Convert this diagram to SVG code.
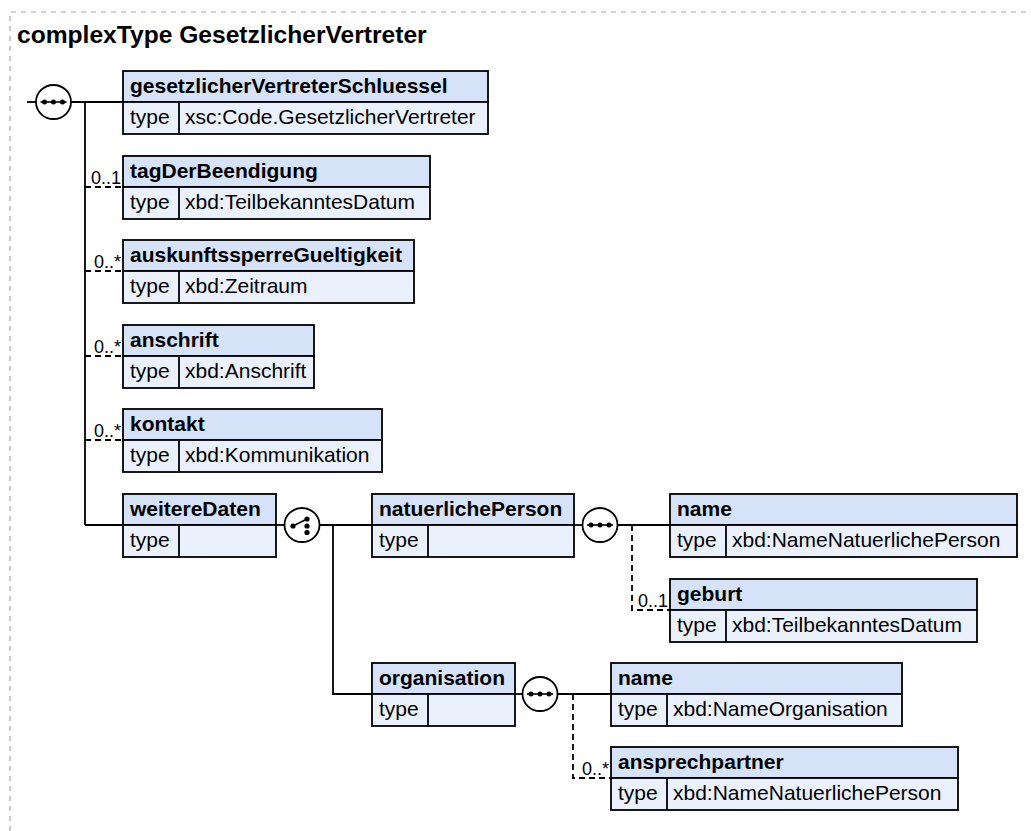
<svg xmlns="http://www.w3.org/2000/svg" width="1031" height="831" viewBox="0 0 1031 831">
<style>
  .frame{fill:none;stroke:#a6a6a6;stroke-width:1.2;stroke-dasharray:5,5}
  .title{font-family:"Liberation Sans",Arial,sans-serif;font-weight:bold;font-size:24.6px;fill:#000}
  .hd{fill:#d5e2f7;stroke:#000;stroke-width:1.8}
  .bd{fill:#eaf1fc;stroke:#000;stroke-width:1.8}
  .dv{stroke:#000;stroke-width:1.8}
  .nm{font-family:"Liberation Sans",Arial,sans-serif;font-weight:bold;font-size:21px;fill:#000}
  .tp{font-family:"Liberation Sans",Arial,sans-serif;font-size:21px;fill:#000}
  .card{font-family:"Liberation Sans",Arial,sans-serif;font-size:18px;fill:#000;text-anchor:end}
  .ln{fill:none;stroke:#000;stroke-width:1.8}
  .dash{fill:none;stroke:#000;stroke-width:1.8;stroke-dasharray:6,4}
  .cmp{fill:#fff;stroke:#000;stroke-width:1.8}
  .ic{stroke:#000;stroke-width:1.6;fill:none}
  .dot{fill:#000}
</style>
<defs>
  <g id="seqIcon">
    <ellipse class="cmp" rx="17.5" ry="17"/>
    <line class="ic" x1="-13" y1="0" x2="13" y2="0"/>
    <circle class="dot" cx="-9" cy="0" r="2.5"/>
    <circle class="dot" cx="0" cy="0" r="2.5"/>
    <circle class="dot" cx="9" cy="0" r="2.5"/>
  </g>
  <g id="choiceIcon">
    <ellipse class="cmp" rx="17.5" ry="17"/>
    <line class="ic" x1="-9" y1="1" x2="5" y2="-6"/>
    <circle class="dot" cx="-9" cy="1" r="2.6"/>
    <circle class="dot" cx="5" cy="-6" r="2.6"/>
    <circle class="dot" cx="5" cy="1" r="2.6"/>
    <circle class="dot" cx="5" cy="7.5" r="2.6"/>
  </g>
</defs>

<path class="frame" d="M10,831 V12 H1031"/>
<text class="title" x="17" y="43">complexType GesetzlicherVertreter</text>

<g id="connectors">
  <line class="ln" x1="27" y1="102" x2="36" y2="102"/>
  <line class="ln" x1="71" y1="102" x2="123" y2="102"/>
  <line class="ln" x1="85" y1="102" x2="85" y2="525"/>
  <line class="ln" x1="85" y1="525" x2="123" y2="525"/>
  <line class="dash" x1="85" y1="187" x2="123" y2="187"/>
  <line class="dash" x1="85" y1="271" x2="123" y2="271"/>
  <line class="dash" x1="85" y1="356" x2="123" y2="356"/>
  <line class="dash" x1="85" y1="440" x2="123" y2="440"/>
  <line class="ln" x1="276" y1="525" x2="285" y2="525"/>
  <line class="ln" x1="319" y1="525" x2="372" y2="525"/>
  <path class="ln" d="M333,525 V694 H372"/>
  <line class="ln" x1="574" y1="525" x2="583" y2="525"/>
  <line class="ln" x1="617" y1="525" x2="670" y2="525"/>
  <path class="dash" d="M632,525 V610 H670"/>
  <line class="ln" x1="515" y1="694" x2="523" y2="694"/>
  <line class="ln" x1="557" y1="694" x2="611" y2="694"/>
  <path class="dash" d="M573,694 V778 H611"/>
  <text class="card" x="121" y="184">0..1</text>
  <text class="card" x="121" y="268">0..*</text>
  <text class="card" x="121" y="353">0..*</text>
  <text class="card" x="121" y="437">0..*</text>
  <text class="card" x="668" y="607">0..1</text>
  <text class="card" x="609" y="775">0..*</text>
</g>

<g id="seq-main" transform="translate(53.5,102)"><use href="#seqIcon"/></g>
<g id="choice-weitereDaten" transform="translate(302,525)"><use href="#choiceIcon"/></g>
<g id="seq-natuerlichePerson" transform="translate(600,525)"><use href="#seqIcon"/></g>
<g id="seq-organisation" transform="translate(540,694)"><use href="#seqIcon"/></g>

<g id="gesetzlicherVertreterSchluessel" transform="translate(123,71)">
  <rect class="hd" width="365" height="31"/>
  <rect class="bd" y="31" width="365" height="32"/>
  <line class="dv" x1="56" y1="31" x2="56" y2="63"/>
  <text class="nm" x="7" y="22">gesetzlicherVertreterSchluessel</text>
  <text class="tp" x="7" y="53">type</text>
  <text class="tp" x="62" y="53">xsc:Code.GesetzlicherVertreter</text>
</g>

<g id="tagDerBeendigung" transform="translate(123,156)">
  <rect class="hd" width="307" height="31"/>
  <rect class="bd" y="31" width="307" height="32"/>
  <line class="dv" x1="56" y1="31" x2="56" y2="63"/>
  <text class="nm" x="7" y="22">tagDerBeendigung</text>
  <text class="tp" x="7" y="53">type</text>
  <text class="tp" x="62" y="53">xbd:TeilbekanntesDatum</text>
</g>

<g id="auskunftssperreGueltigkeit" transform="translate(123,240)">
  <rect class="hd" width="291" height="31"/>
  <rect class="bd" y="31" width="291" height="32"/>
  <line class="dv" x1="56" y1="31" x2="56" y2="63"/>
  <text class="nm" x="7" y="22">auskunftssperreGueltigkeit</text>
  <text class="tp" x="7" y="53">type</text>
  <text class="tp" x="62" y="53">xbd:Zeitraum</text>
</g>

<g id="anschrift" transform="translate(123,325)">
  <rect class="hd" width="191" height="31"/>
  <rect class="bd" y="31" width="191" height="32"/>
  <line class="dv" x1="56" y1="31" x2="56" y2="63"/>
  <text class="nm" x="7" y="22">anschrift</text>
  <text class="tp" x="7" y="53">type</text>
  <text class="tp" x="62" y="53">xbd:Anschrift</text>
</g>

<g id="kontakt" transform="translate(123,409)">
  <rect class="hd" width="259" height="31"/>
  <rect class="bd" y="31" width="259" height="32"/>
  <line class="dv" x1="56" y1="31" x2="56" y2="63"/>
  <text class="nm" x="7" y="22">kontakt</text>
  <text class="tp" x="7" y="53">type</text>
  <text class="tp" x="62" y="53">xbd:Kommunikation</text>
</g>

<g id="weitereDaten" transform="translate(123,494)">
  <rect class="hd" width="153" height="31"/>
  <rect class="bd" y="31" width="153" height="32"/>
  <line class="dv" x1="56" y1="31" x2="56" y2="63"/>
  <text class="nm" x="7" y="22">weitereDaten</text>
  <text class="tp" x="7" y="53">type</text>
</g>

<g id="natuerlichePerson" transform="translate(372,494)">
  <rect class="hd" width="202" height="31"/>
  <rect class="bd" y="31" width="202" height="32"/>
  <line class="dv" x1="56" y1="31" x2="56" y2="63"/>
  <text class="nm" x="7" y="22">natuerlichePerson</text>
  <text class="tp" x="7" y="53">type</text>
</g>

<g id="natuerlichePerson-name" transform="translate(670,494)">
  <rect class="hd" width="347" height="31"/>
  <rect class="bd" y="31" width="347" height="32"/>
  <line class="dv" x1="56" y1="31" x2="56" y2="63"/>
  <text class="nm" x="7" y="22">name</text>
  <text class="tp" x="7" y="53">type</text>
  <text class="tp" x="62" y="53">xbd:NameNatuerlichePerson</text>
</g>

<g id="geburt" transform="translate(670,579)">
  <rect class="hd" width="307" height="31"/>
  <rect class="bd" y="31" width="307" height="32"/>
  <line class="dv" x1="56" y1="31" x2="56" y2="63"/>
  <text class="nm" x="7" y="22">geburt</text>
  <text class="tp" x="7" y="53">type</text>
  <text class="tp" x="62" y="53">xbd:TeilbekanntesDatum</text>
</g>

<g id="organisation" transform="translate(372,663)">
  <rect class="hd" width="143" height="31"/>
  <rect class="bd" y="31" width="143" height="32"/>
  <line class="dv" x1="56" y1="31" x2="56" y2="63"/>
  <text class="nm" x="7" y="22">organisation</text>
  <text class="tp" x="7" y="53">type</text>
</g>

<g id="organisation-name" transform="translate(611,663)">
  <rect class="hd" width="291" height="31"/>
  <rect class="bd" y="31" width="291" height="32"/>
  <line class="dv" x1="56" y1="31" x2="56" y2="63"/>
  <text class="nm" x="7" y="22">name</text>
  <text class="tp" x="7" y="53">type</text>
  <text class="tp" x="62" y="53">xbd:NameOrganisation</text>
</g>

<g id="ansprechpartner" transform="translate(611,747)">
  <rect class="hd" width="347" height="31"/>
  <rect class="bd" y="31" width="347" height="32"/>
  <line class="dv" x1="56" y1="31" x2="56" y2="63"/>
  <text class="nm" x="7" y="22">ansprechpartner</text>
  <text class="tp" x="7" y="53">type</text>
  <text class="tp" x="62" y="53">xbd:NameNatuerlichePerson</text>
</g>
</svg>
